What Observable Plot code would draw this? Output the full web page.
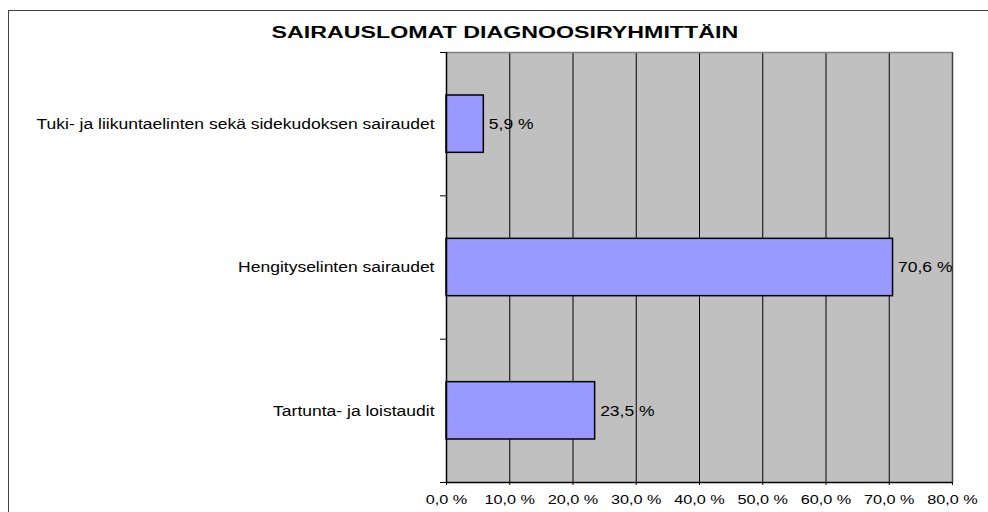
<!DOCTYPE html>
<html><head><meta charset="utf-8">
<script src="https://cdn.jsdelivr.net/npm/d3@7"></script>
<script src="https://cdn.jsdelivr.net/npm/@observablehq/plot@0.6"></script>
<style>
html,body{margin:0;padding:0;background:#fff;overflow:hidden;}
#wrap{position:relative;width:988px;height:512px;overflow:hidden;font-family:"Liberation Sans",Arial,sans-serif;}
#border{position:absolute;left:8px;top:10px;width:1000px;height:520px;border-left:1.5px solid #404040;border-top:1.5px solid #404040;}
#title{position:absolute;left:0;top:25px;width:1009px;text-align:center;font-weight:bold;font-size:16px;line-height:16px;color:#000;}
#title span{display:inline-block;transform:scaleX(1.45);}
#chart{position:absolute;left:0;top:0;}
</style></head><body>
<div id="wrap"><div id="border"></div><div id="chart"></div><div id="title"><span></span></div></div>
<script>
const title = "SAIRAUSLOMAT DIAGNOOSIRYHMITTÄIN";
const categories = [
  "Tuki- ja liikuntaelinten sekä sidekudoksen sairaudet",
  "Hengityselinten sairaudet",
  "Tartunta- ja loistaudit"
];
const values = [5.9, 70.6, 23.5];
const xTicks = [0, 10, 20, 30, 40, 50, 60, 70, 80];

const data = categories.map((c, i) => ({category: c, value: values[i], i}));
const fmt = v => v.toFixed(1).replace(".", ",") + " %";
const n = categories.length;

document.querySelector("#title span").textContent = title;

const plot = Plot.plot({
  width: 988, height: 512,
  marginLeft: 446, marginRight: 36, marginTop: 52, marginBottom: 30,
  style: {fontFamily: "'Liberation Sans', Arial, sans-serif", fontSize: "15px", color: "black", background: "transparent"},
  x: {domain: [0, 80]},
  y: {domain: [n, 0]},
  marks: [
    Plot.frame({fill: "#c0c0c0", stroke: null}),
    Plot.ruleX(xTicks.slice(1, -1), {stroke: "black", strokeWidth: 1}),
    Plot.ruleY([0], {stroke: "#808080", strokeWidth: 1.5}),
    Plot.ruleX([80], {stroke: "#404040", strokeWidth: 1.5}),
    Plot.rectX(data, {x1: 0, x2: "value", y1: d => d.i + 0.3, y2: d => d.i + 0.7, fill: "#9999ff", stroke: "black", strokeWidth: 1.5}),
    Plot.ruleX([0], {stroke: "black", strokeWidth: 1.5}),
    Plot.ruleY([n], {stroke: "black", strokeWidth: 1.5}),
    Plot.axisX({ticks: xTicks, tickSize: 3, tickPadding: 9, tickFormat: fmt, fontSize: 13, label: null, stroke: "black"}),
    Plot.axisY({ticks: d3.range(0, n + 1), tickSize: 6, tickFormat: () => "", label: null, stroke: "black"}),
    Plot.axisY({ticks: categories.map((c, i) => i + 0.5), tickSize: 0, tickPadding: 12, tickFormat: d => categories[Math.floor(d)], fontSize: 15.5, label: null}),
    Plot.text(data, {x: "value", y: d => d.i + 0.5, text: d => fmt(d.value), dx: 5, textAnchor: "start", fontSize: 15.5, fill: "black"})
  ]
});

plot.querySelectorAll("text").forEach(t => {
  const g = t.closest("g[aria-label]");
  const lab = g ? g.getAttribute("aria-label") : "";
  const sx = lab.startsWith("x-axis") ? 1.25 : 1.13;
  let tr = t.getAttribute("transform") || "";
  const x = t.getAttribute("x");
  if (x && !/em$/.test(x)) { tr += ` translate(${x},0)`; t.removeAttribute("x"); }
  t.setAttribute("transform", tr + ` scale(${sx},1)`);
});

document.getElementById("chart").appendChild(plot);
</script>
</body></html>
